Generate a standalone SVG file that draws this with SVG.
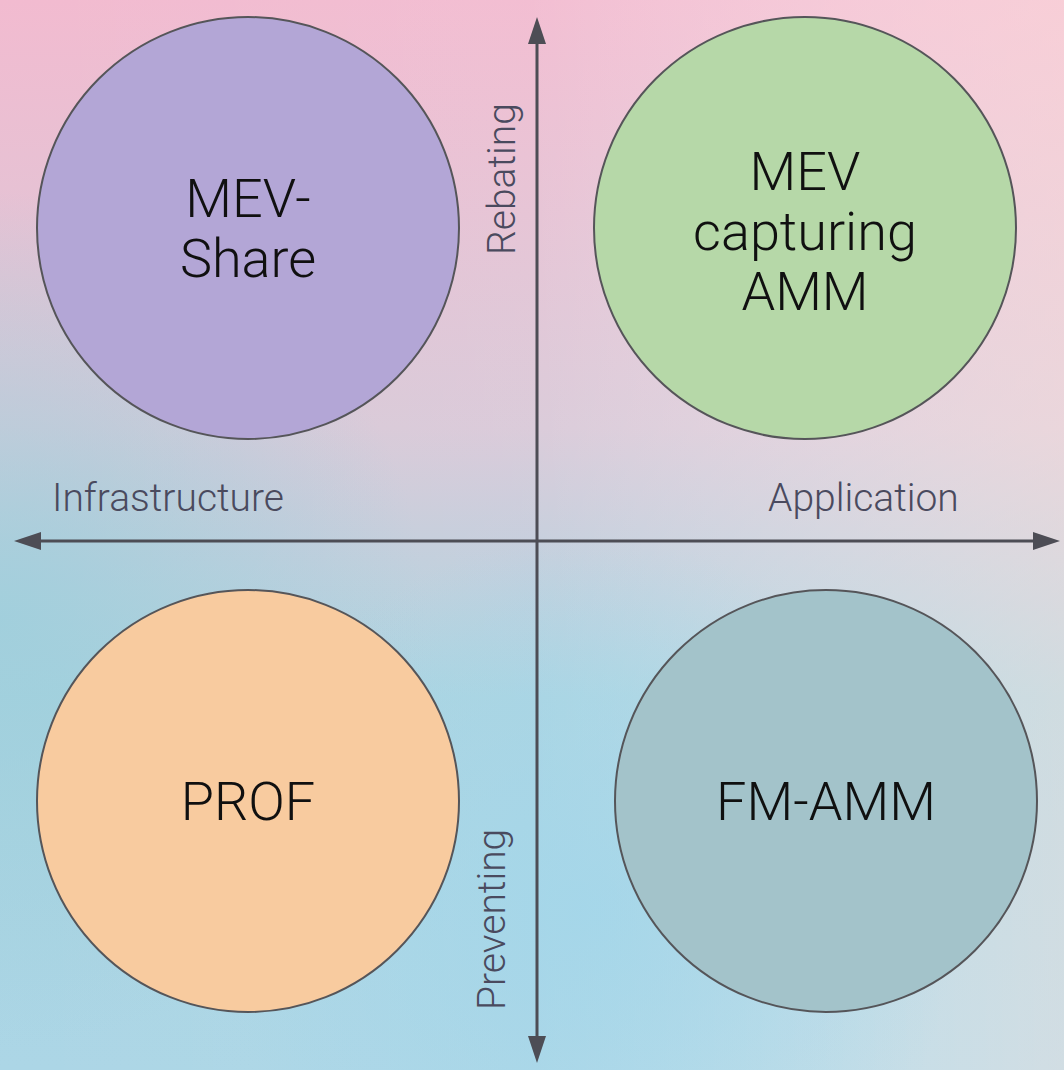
<svg xmlns="http://www.w3.org/2000/svg" width="1064" height="1070" viewBox="0 0 1064 1070">
  <defs>
    <linearGradient id="bgV" x1="0" y1="0" x2="0" y2="1">
      <stop offset="0" stop-color="#f2bbd0"/>
      <stop offset="0.4" stop-color="#d9c9d8"/>
      <stop offset="0.65" stop-color="#a9d3e0"/>
      <stop offset="1" stop-color="#acd6e6"/>
    </linearGradient>
    <linearGradient id="bgH" x1="0" y1="0" x2="1" y2="0">
      <stop offset="0" stop-color="#ffffff" stop-opacity="0"/>
      <stop offset="0.5" stop-color="#ffffff" stop-opacity="0.05"/>
      <stop offset="1" stop-color="#ffe6e0" stop-opacity="0.45"/>
    </linearGradient>
    <radialGradient id="bgB" cx="0.55" cy="0.85" r="0.35">
      <stop offset="0" stop-color="#a2d6ea" stop-opacity="0.8"/>
      <stop offset="1" stop-color="#a2d6ea" stop-opacity="0"/>
    </radialGradient>
    <radialGradient id="bgL" cx="0" cy="0.58" r="0.4">
      <stop offset="0" stop-color="#9ecfdc" stop-opacity="0.85"/>
      <stop offset="1" stop-color="#9ecfdc" stop-opacity="0"/>
    </radialGradient>
    <marker id="arrow" viewBox="0 0 27 18" refX="19" refY="9" markerWidth="27" markerHeight="18" markerUnits="userSpaceOnUse" orient="auto-start-reverse">
      <path d="M0,0 L27,9 L0,18 z" fill="#4d4d55"/>
    </marker>
    <style>
      .node { stroke: #555559; stroke-width: 2; }
      .ntext { font-family: Roboto, "Liberation Sans", sans-serif; font-size: 54px; font-weight: 300; fill: #101010; text-anchor: middle; }
      .axis { stroke: #4d4d55; stroke-width: 3; fill: none; }
      .alabel { font-family: Roboto, "Liberation Sans", sans-serif; font-size: 39px; font-weight: 300; fill: #4a4a5e; }
    </style>
  </defs>
  <rect width="1064" height="1070" fill="url(#bgV)"/>
  <rect width="1064" height="1070" fill="url(#bgH)"/>
  <rect width="1064" height="1070" fill="url(#bgL)"/>
  <rect width="1064" height="1070" fill="url(#bgB)"/>

  <g id="connectors">
    <line class="axis" x1="537" y1="1055" x2="537" y2="25" marker-start="url(#arrow)" marker-end="url(#arrow)"/>
    <line class="axis" x1="22" y1="541" x2="1052" y2="541" marker-start="url(#arrow)" marker-end="url(#arrow)"/>
  </g>

  <g id="label-rebating">
    <text class="alabel" transform="translate(515,255) rotate(-90)">Rebating</text>
  </g>
  <g id="label-preventing">
    <text class="alabel" transform="translate(505,1010) rotate(-90)">Preventing</text>
  </g>
  <g id="label-infrastructure">
    <text class="alabel" x="52" y="511">Infrastructure</text>
  </g>
  <g id="label-application">
    <text class="alabel" x="768" y="511">Application</text>
  </g>

  <g id="node-mev-share">
    <circle class="node" cx="248" cy="228" r="211" fill="#b3a6d6"/>
    <text class="ntext" x="248" y="217">MEV-</text>
    <text class="ntext" x="248" y="277">Share</text>
  </g>
  <g id="node-mev-capturing-amm">
    <circle class="node" cx="805" cy="228" r="211" fill="#b6d8a8"/>
    <text class="ntext" x="805" y="190">MEV</text>
    <text class="ntext" x="805" y="250">capturing</text>
    <text class="ntext" x="805" y="310">AMM</text>
  </g>
  <g id="node-prof">
    <circle class="node" cx="248" cy="801" r="211" fill="#f8cb9f"/>
    <text class="ntext" x="248" y="820">PROF</text>
  </g>
  <g id="node-fm-amm">
    <circle class="node" cx="826" cy="801" r="211" fill="#a3c3ca"/>
    <text class="ntext" x="826" y="820">FM-AMM</text>
  </g>
</svg>
